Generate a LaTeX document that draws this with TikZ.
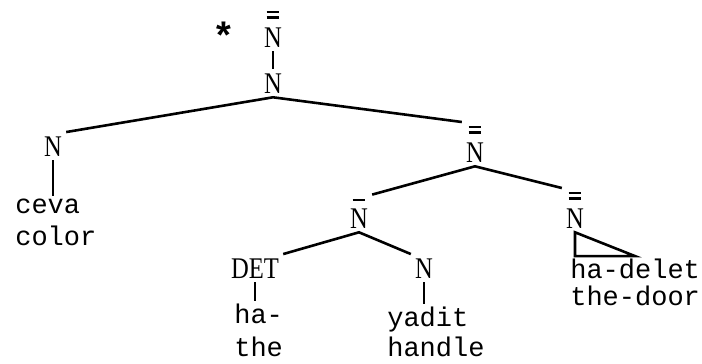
\documentclass[tikz,border=0pt]{standalone}
\usepackage{fontspec}
\setmainfont{Liberation Serif}
\setmonofont{Liberation Mono}
\newfontfamily\catfont[FakeStretch=0.82]{Liberation Serif}
\newcommand{\sbar}[1]{\ooalign{\hidewidth\rule[0.9em]{0.42em}{0.07em}\hidewidth\cr#1\cr}}
\newcommand{\dbar}[1]{\ooalign{\hidewidth\rule[1.12em]{0.42em}{0.07em}\hidewidth\cr\hidewidth\rule[0.95em]{0.42em}{0.07em}\hidewidth\cr#1\cr}}
\begin{document}
\begin{tikzpicture}[x=1pt,y=-1pt,line width=2.6pt]
			\tikzset{cat/.style={anchor=base,inner sep=3pt,font=\catfont\fontsize{30}{34}\selectfont},
				word/.style={anchor=base west,inner sep=1pt,font=\ttfamily\fontsize{27}{32}\selectfont}}
			\useasboundingbox (0,0) rectangle (702,364);
			\node[cat,font=\ttfamily\bfseries\fontsize{38}{40}\selectfont] (star) at (224,49) {*};
			\node[cat] (root) at (273,47) {\dbar{N}};
			\node[cat] (n1) at (273,93) {N};
			\node[cat] (nl) at (53,156) {N};
			\node[cat] (n2) at (475,162) {\dbar{N}};
			\node[cat] (n3) at (359,228) {\sbar{N}};
			\node[cat] (n4) at (575,228) {\dbar{N}};
			\node[cat] (det) at (255,278) {DET};
			\node[cat] (n6) at (424,278) {N};
			\node[word] (w1) at (13,213) {ceva};
			\node[word] (g1) at (13,245) {color};
			\node[word] (w2) at (232,323) {ha-};
			\node[word] (g2) at (232,356) {the};
			\node[word] (w3) at (385,326) {yadit};
			\node[word] (g3) at (385,356) {handle};
			\node[word] (w4) at (568,278) {ha-delet};
			\node[word] (g4) at (568,305) {the-door};
			\draw (root.south) -- (n1.north);
			\draw (nl.north east) -- (n1.south) -- (n2.north west);
			\draw (n3.north east) -- (n2.south) -- (n4.north west);
			\draw (det.north east) -- (n3.south) -- (n6.north west);
			\draw (nl.south) -- (nl.south |- w1.north);
			\draw (det.south) -- (det.south |- w2.north);
			\draw (n6.south) -- (n6.south |- w3.north);
			\draw (n4.south) -- (n4.south |- w4.north) -- (w4.north) -- cycle;
		\end{tikzpicture}
\end{document}
